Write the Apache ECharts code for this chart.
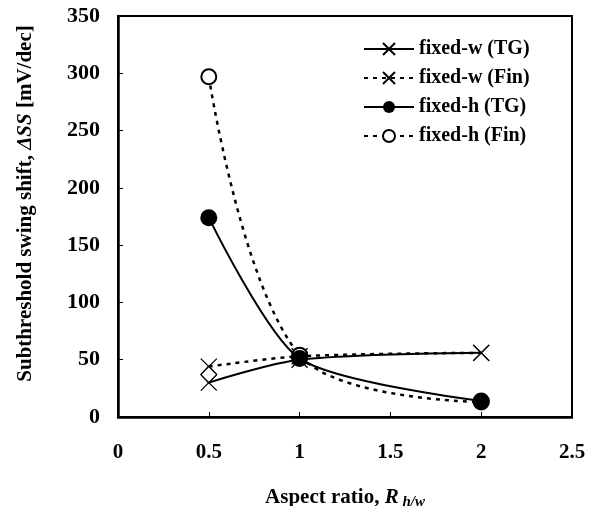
<!DOCTYPE html>
<html>
<head>
<meta charset="utf-8">
<script src="https://cdn.jsdelivr.net/npm/echarts@6/dist/echarts.min.js"></script>
<style>
html,body{margin:0;padding:0;background:#fff;}
#chart{width:592px;height:506px;}
</style>
</head>
<body>
<div id="chart"></div>
<script>
const aspectRatio = [0.5, 1, 2];
const fixedW_TG = [30, 50, 56];
const fixedW_Fin = [44, 53, 56];
const fixedH_TG = [174, 51, 14];
const fixedH_Fin = [297, 54, 13];
const extraPointX = [0.5];
const extraPointY = [37];
const seriesNames = ['fixed-w (TG)', 'fixed-w (Fin)', 'fixed-h (TG)', 'fixed-h (Fin)'];
const xTicks = [0, 0.5, 1, 1.5, 2, 2.5];
const yTicks = [0, 50, 100, 150, 200, 250, 300, 350];

const pairs = (xs, ys) => xs.map((x, i) => [x, ys[i]]);
const FONT = '"Liberation Serif", "Times New Roman", serif';
const crossPath = 'path://M0,0L10,10M10,0L0,10';
const dashed = [4, 5];

const chart = echarts.init(document.getElementById('chart'), null, {renderer: 'canvas'});
chart.setOption({
  animation: false,
  backgroundColor: '#fff',
  grid: {left: 118, right: 20, top: 16, bottom: 89, outerBoundsMode: 'none', containLabel: false,
         show: true, borderColor: '#000', borderWidth: 2, backgroundColor: 'transparent'},
  legend: {
    orient: 'vertical', left: 358, top: 34, itemWidth: 50, itemHeight: 15, itemGap: 9,
    textStyle: {fontFamily: FONT, fontWeight: 'bold', fontSize: 20, color: '#000'},
    data: seriesNames
  },
  xAxis: {
    type: 'value', min: xTicks[0], max: xTicks[xTicks.length - 1], interval: 0.5,
    axisLine: {lineStyle: {color: '#000', width: 2.5}},
    axisTick: {inside: true, length: 5, lineStyle: {color: '#000', width: 1}},
    splitLine: {show: false},
    axisLabel: {fontFamily: FONT, fontWeight: 'bold', fontSize: 21, color: '#000', margin: 25},
    name: '{b|Aspect ratio, }{i|R}{s| h/w}',
    nameLocation: 'middle', nameGap: 68,
    nameTextStyle: {
      rich: {
        b: {fontFamily: FONT, fontWeight: 'bold', fontSize: 21, color: '#000'},
        i: {fontFamily: FONT, fontWeight: 'bold', fontStyle: 'italic', fontSize: 21, color: '#000'},
        s: {fontFamily: FONT, fontWeight: 'bold', fontStyle: 'italic', fontSize: 15, color: '#000', padding: [10, 0, 0, 0]}
      }
    }
  },
  yAxis: {
    type: 'value', min: yTicks[0], max: yTicks[yTicks.length - 1], interval: 50,
    axisLine: {show: true, lineStyle: {color: '#000', width: 2.5}},
    axisTick: {show: true, inside: true, length: 5, lineStyle: {color: '#000', width: 1}},
    splitLine: {show: false},
    axisLabel: {fontFamily: FONT, fontWeight: 'bold', fontSize: 22, color: '#000', margin: 18},
    name: '{b|Subthreshold swing shift, }{i|ΔSS}{b| [mV/dec]}',
    nameLocation: 'middle', nameGap: 82, nameRotate: 90,
    nameTextStyle: {
      padding: [0, 0, 0, 26],
      rich: {
        b: {fontFamily: FONT, fontWeight: 'bold', fontSize: 21, color: '#000'},
        i: {fontFamily: FONT, fontWeight: 'bold', fontStyle: 'italic', fontSize: 21, color: '#000'}
      }
    }
  },
  series: [
    {
      name: seriesNames[0], type: 'line', smooth: 0.3, z: 2,
      data: pairs(aspectRatio, fixedW_TG),
      symbol: crossPath, symbolSize: 16,
      lineStyle: {color: '#000', width: 2, type: 'solid'},
      itemStyle: {color: '#000', borderColor: '#000', borderWidth: 1.3}
    },
    {
      name: seriesNames[1], type: 'line', smooth: 0.3, z: 2,
      data: pairs(aspectRatio, fixedW_Fin),
      symbol: crossPath, symbolSize: 16,
      lineStyle: {color: '#000', width: 2.5, type: dashed},
      itemStyle: {color: '#000', borderColor: '#000', borderWidth: 1.3}
    },
    {
      name: seriesNames[3], type: 'line', smooth: 0.35, z: 2,
      data: pairs(aspectRatio, fixedH_Fin),
      symbol: 'emptyCircle', symbolSize: 15,
      lineStyle: {color: '#000', width: 2.5, type: dashed},
      itemStyle: {color: '#000', borderColor: '#000', borderWidth: 1.5}
    },
    {
      name: seriesNames[2], type: 'line', smooth: 0.25, z: 3,
      data: pairs(aspectRatio, fixedH_TG),
      symbol: 'circle', symbolSize: 17,
      lineStyle: {color: '#000', width: 2, type: 'solid'},
      itemStyle: {color: '#000'}
    },
    {
      name: 'extra', type: 'scatter', z: 2,
      data: pairs(extraPointX, extraPointY),
      symbol: 'diamond', symbolSize: [16, 18],
      itemStyle: {color: 'rgba(0,0,0,0)', borderColor: '#000', borderWidth: 1}
    }
  ]
});
</script>
</body>
</html>
